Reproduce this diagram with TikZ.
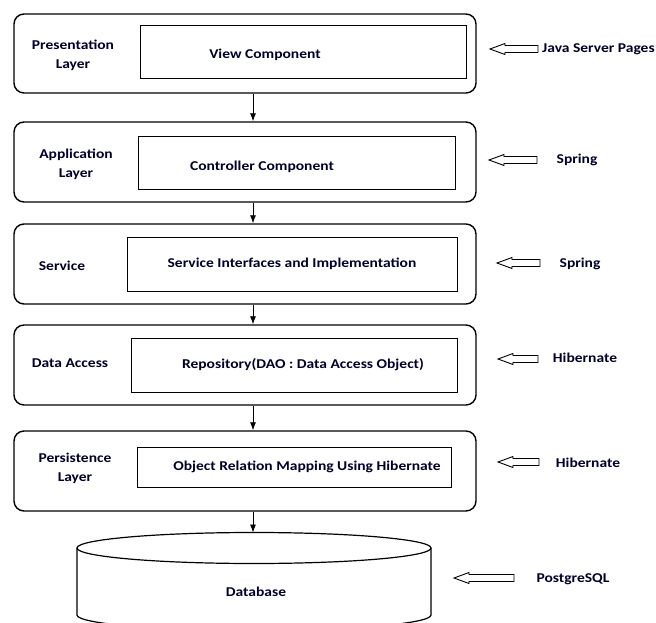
\documentclass[tikz,border=0pt]{standalone}
\usepackage{fontspec}
\setmainfont{Carlito}
\usetikzlibrary{arrows.meta}
\newcommand{\lbl}[1]{\scalebox{1.15}[1]{#1}}
\newcommand{\twol}[2]{\scalebox{1.15}[1]{\begin{tabular}{@{}c@{}}#1\\#2\end{tabular}}}
\newcommand{\harrow}[2]{%
  \draw[hollowarrow] (#1) -- ++(15,-5.5) -- ++(0,2) -- ++({#2-15},0) -- ++(0,7) -- ++({15-#2},0) -- ++(0,2) -- cycle;}
\begin{document}
\begin{tikzpicture}[x=1pt,y=-1pt,
  outerbox/.style={draw, line width=1.4pt, rounded corners=10pt, inner sep=0pt, minimum width=462pt},
  innerbox/.style={draw, line width=0.9pt, inner sep=0pt},
  txt/.style={font=\fontsize{13.5}{19}\selectfont\bfseries, inner sep=0pt, text=black!85!blue},
  flow/.style={-{Latex[length=8pt,width=6pt]}, line width=0.8pt},
  hollowarrow/.style={line width=0.9pt, fill=white}]
\useasboundingbox (0,0) rectangle (656,623);
% outer boxes
\node[outerbox, minimum height=79pt] (o1) at (245,53.5) {};
\node[outerbox, minimum height=80pt] (o2) at (245,162) {};
\node[outerbox, minimum height=80pt] (o3) at (245,264) {};
\node[outerbox, minimum height=80pt] (o4) at (245,365) {};
\node[outerbox, minimum height=80pt] (o5) at (245,471) {};
% inner boxes
\node[innerbox, minimum width=326pt, minimum height=53pt] (i1) at (303,51.5) {};
\node[innerbox, minimum width=317pt, minimum height=53pt] (i2) at (296.5,162.5) {};
\node[innerbox, minimum width=330pt, minimum height=54pt] (i3) at (292,264) {};
\node[innerbox, minimum width=326pt, minimum height=54pt] (i4) at (294,365) {};
\node[innerbox, minimum width=314pt, minimum height=40pt] (i5) at (294,467) {};
% inner texts
\node[txt] (t1) at (265,55) {\lbl{View Component}};
\node[txt] (t2) at (262,167) {\lbl{Controller Component}};
\node[txt] (t3) at (292,264) {\lbl{Service Interfaces and Implementation}};
\node[txt] (t4) at (303,365) {\lbl{Repository(DAO : Data Access Object)}};
\node[txt] (t5) at (307,467) {\lbl{Object Relation Mapping Using Hibernate}};
% layer labels
\node[txt] (l1) at (73,55) {\twol{Presentation}{Layer}};
\node[txt] (l2) at (76,164) {\twol{Application}{Layer}};
\node[txt] (l3) at (62,266) {\lbl{Service}};
\node[txt] (l4) at (70,363) {\lbl{Data Access}};
\node[txt] (l5) at (75,468) {\twol{Persistence}{Layer}};
% database cylinder
\draw[line width=1.2pt, fill=white] (77,548) -- (77,615) arc[start angle=180, end angle=0, x radius=177, y radius=15.5] -- (431,548);
\draw[line width=1.2pt] (254,548) ellipse [x radius=177, y radius=15.5];
\coordinate (dbtop) at (253,532.5);
\node[txt] (db) at (256,592) {\lbl{Database}};
% flow arrows
\coordinate (ax) at (253,0);
\draw[flow] (ax |- o1.south) -- (ax |- o2.north);
\draw[flow] (ax |- o2.south) -- (ax |- o3.north);
\draw[flow] (ax |- o3.south) -- (ax |- o4.north);
\draw[flow] (ax |- o4.south) -- (ax |- o5.north);
\draw[flow] (ax |- o5.south) -- (dbtop);
% technology labels with hollow arrows
\coordinate (a1) at (490,49);
\coordinate (a2) at (489,160);
\coordinate (a3) at (497,263);
\coordinate (a4) at (498,359);
\coordinate (a5) at (498,462);
\coordinate (a6) at (454,578);
\harrow{a1}{48}
\harrow{a2}{48}
\harrow{a3}{43}
\harrow{a4}{40}
\harrow{a5}{41}
\harrow{a6}{60}
\node[txt, anchor=west] (r1) at (542,49) {\lbl{Java Server Pages}};
\node[txt] (r2) at (577,160) {\lbl{Spring}};
\node[txt] (r3) at (580,264) {\lbl{Spring}};
\node[txt] (r4) at (585,358) {\lbl{Hibernate}};
\node[txt] (r5) at (588,463) {\lbl{Hibernate}};
\node[txt] (r6) at (573,579) {\lbl{PostgreSQL}};
\end{tikzpicture}
\end{document}
